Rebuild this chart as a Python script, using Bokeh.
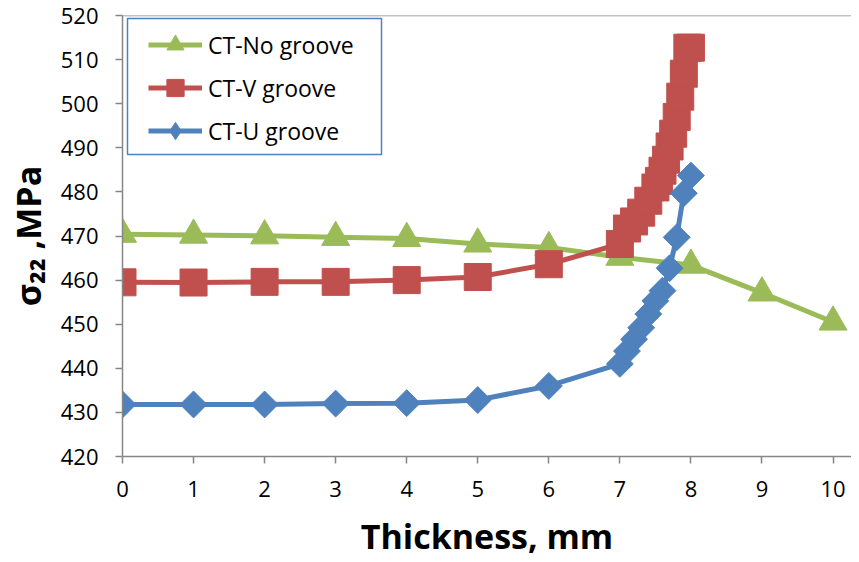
import math
from bokeh.plotting import figure
from bokeh.models import Range1d, FixedTicker, Legend, LegendItem, Span, BoxAnnotation
from bokeh.embed import file_html
from bokeh.resources import INLINE

# ---- data ----
series_names = ["CT-No groove", "CT-V groove", "CT-U groove"]

thick_no = [0, 1, 2, 3, 4, 5, 6, 7, 8, 9, 10]
stress_no = [470.4, 470.2, 470.05, 469.7, 469.45, 468.2, 467.4, 465.2, 463.4, 457.1, 450.5]

thick_v = [0, 1, 2, 3, 4, 5, 6, 7.0, 7.1, 7.2, 7.3, 7.4, 7.5, 7.55, 7.6, 7.65,
           7.7, 7.75, 7.8, 7.85, 7.9, 7.95, 8.0]
stress_v = [459.5, 459.45, 459.6, 459.6, 460.0, 460.7, 463.6, 468.2, 471.7, 473.3,
            475.3, 478.0, 481.0, 482.5, 484.8, 487.3, 490.3, 493.2, 497.0, 501.6,
            506.8, 512.7, 512.7]

thick_u = [0, 1, 2, 3, 4, 5, 6, 7.0, 7.1, 7.2, 7.3, 7.4, 7.5, 7.6, 7.7, 7.8, 7.9, 8.0]
stress_u = [431.8, 431.8, 431.8, 432.0, 432.1, 432.8, 436.0, 441.0, 443.9, 446.6,
            449.2, 452.3, 455.3, 457.6, 462.7, 469.7, 479.7, 483.7]

x_ticks = list(range(0, 11))
y_ticks = list(range(420, 521, 10))

GREEN = "#9BBB59"
RED = "#C0504D"
BLUE = "#4F81BD"
AXIS = "#868686"
FONT = "Open Sans"

X0, X1, Y0, Y1 = 0, 10.26, 420, 520
FW, FH = 729, 441

p = figure(frame_width=FW, frame_height=FH,
           x_range=Range1d(X0, X1), y_range=Range1d(Y0, Y1),
           output_backend="svg", toolbar_location=None,
           min_border_left=122, min_border_top=15, min_border_bottom=98,
           min_border_right=0)
p.outline_line_color = None
p.xgrid.visible = False
p.ygrid.visible = False
p.background_fill_color = "white"
p.border_fill_color = "white"

# lines + markers
l1 = p.line(thick_no, stress_no, line_color=GREEN, line_width=5, line_join="round")
s1 = p.scatter(thick_no, stress_no, marker="triangle", size=28,
               fill_color=GREEN, line_color=GREEN)
l2 = p.line(thick_v, stress_v, line_color=RED, line_width=5, line_join="round")
s2 = p.scatter(thick_v, stress_v, marker="square", size=27,
               fill_color=RED, line_color=RED)
l3 = p.line(thick_u, stress_u, line_color=BLUE, line_width=5, line_join="round")
s3 = p.scatter(thick_u, stress_u, marker="square", size=19, angle=math.pi / 4,
               fill_color=BLUE, line_color=BLUE)
# legend-only symbol for the U groove series (diamond shape in the key)
u_key = p.scatter([float("nan")], [float("nan")], marker="diamond", size=10,
                  fill_color=BLUE, line_color=BLUE)

# top border of plot area
p.add_layout(Span(location=Y1, dimension="width", line_color=AXIS, line_width=1.5))

for ax in (p.xaxis[0], p.yaxis[0]):
    ax.axis_line_color = AXIS
    ax.axis_line_width = 1.5
    ax.major_tick_line_color = AXIS
    ax.major_tick_line_width = 1.5
    ax.major_tick_out = 7
    ax.major_tick_in = 0
    ax.minor_tick_line_color = None
    ax.major_label_text_font = FONT
    ax.major_label_text_font_size = "22px"
    ax.major_label_text_color = "black"
    ax.axis_label_text_font = FONT
    ax.axis_label_text_font_style = "bold"
    ax.axis_label_text_font_size = "34px"
    ax.axis_label_text_color = "black"

p.xaxis.ticker = FixedTicker(ticks=x_ticks)
p.yaxis.ticker = FixedTicker(ticks=y_ticks)
p.xaxis.major_label_standoff = 17
p.yaxis.major_label_standoff = 17
p.xaxis.axis_label = "Thickness, mm"
p.yaxis.axis_label = "σ₂₂ ,MPa"
p.xaxis.axis_label_standoff = 13
p.yaxis.axis_label_standoff = 7

# legend box (pixel geometry converted to data units)
sx = (X1 - X0) / FW
sy = (Y1 - Y0) / FH
box = BoxAnnotation(left=X0 + 5 * sx, right=X0 + 259 * sx,
                    top=Y1 - 3 * sy, bottom=Y1 - 139 * sy,
                    fill_color="white", fill_alpha=1.0,
                    line_color=BLUE, line_width=1.5, line_alpha=1.0)
p.add_layout(box)

legend = Legend(items=[
    LegendItem(label=series_names[0], renderers=[l1, s1]),
    LegendItem(label=series_names[1], renderers=[l2, s2]),
    LegendItem(label=series_names[2], renderers=[l3, u_key]),
], location=(26, 304))
legend.border_line_color = None
legend.background_fill_alpha = 0
legend.label_text_font = FONT
legend.label_text_font_size = "23px"
legend.label_text_color = "black"
legend.glyph_width = 54
legend.glyph_height = 43
legend.label_height = 43
legend.padding = 0
legend.spacing = 0
legend.label_standoff = 6
legend.margin = 0
p.add_layout(legend)

open("out.html", "w").write(file_html(p, INLINE))
